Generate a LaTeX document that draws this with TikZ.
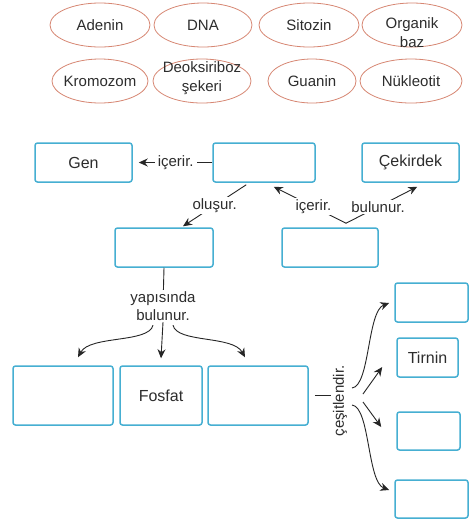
\documentclass[tikz,border=0pt]{standalone}
\usepackage{fontspec}
\setmainfont{Liberation Sans}
\usetikzlibrary{arrows.meta,calc,shapes.geometric}
\definecolor{boxc}{RGB}{70,175,210}
\definecolor{ellc}{RGB}{215,135,115}
\definecolor{txt}{RGB}{45,45,45}
\newcommand{\ztext}[2][-5.5pt]{\makebox[0pt]{\smash{\raisebox{#1}{#2}}}}
\newcommand{\twoln}[2]{\begin{tabular}{@{}c@{}}#1\\[1pt]#2\end{tabular}}
\begin{document}
\begin{tikzpicture}[x=1pt,y=-1pt,
  ell/.style={ellipse, draw=ellc, line width=0.8pt, inner sep=0pt, minimum height=44pt, text=txt, font=\fontsize{15}{18}\selectfont},
  box/.style={draw=boxc, line width=1.5pt, rounded corners=2.5pt, minimum height=39pt, inner sep=0pt, text=txt, font=\fontsize{16}{19}\selectfont},
  lbl/.style={text=txt, font=\fontsize{15}{18}\selectfont, fill=white, inner sep=1.5pt},
  con/.style={draw=black!85, line width=0.9pt},
  arr/.style={con, -{Stealth[length=9pt,width=8pt]}}
]
\useasboundingbox[fill=white] (0,0) rectangle (470,520);

% word bank
\node[ell, minimum width=100pt] (ade) at (100,25) {\ztext{Adenin}};
\node[ell, minimum width=98pt]  (dna) at (203,25) {\ztext{DNA}};
\node[ell, minimum width=100pt] (sit) at (309,25) {\ztext{Sitozin}};
\node[ell, minimum width=100pt] (org) at (412,25) {\ztext[-13pt]{\twoln{Organik}{baz}}};
\node[ell, minimum width=96pt]  (kro) at (100,81) {\ztext{Kromozom}};
\node[ell, minimum width=98pt]  (deo) at (202,81) {\ztext[-1pt]{\twoln{Deoksiriboz}{şekeri}}};
\node[ell, minimum width=88pt]  (gua) at (312,81) {\ztext{Guanin}};
\node[ell, minimum width=102pt] (nuk) at (411,81) {\ztext{Nükleotit}};

% boxes
\node[box, minimum width=97pt]  (genb) at (83.5,162.5) {Gen};
\node[box, minimum width=102pt] (dnab) at (264,162.5) {};
\node[box, minimum width=97pt]  (cekb) at (410.5,162.5) {Çekirdek};
\node[box, minimum width=98pt]  (nukb) at (164,247.5) {};
\node[box, minimum width=96pt]  (krob) at (330,247.5) {};
\node[box, minimum width=100pt, minimum height=59pt] (sekb) at (63,395.5) {};
\node[box, minimum width=82pt, minimum height=59pt]  (fosb) at (161,395.5) {Fosfat};
\node[box, minimum width=100pt, minimum height=59pt] (bazb) at (258,395.5) {};
\node[box, minimum width=73pt] (r1) at (431.5,302.5) {};
\node[box, minimum width=61pt] (tirb) at (427.5,357.5) {Tirnin};
\node[box, minimum width=63pt, minimum height=38pt] (r3) at (428.5,431) {};
\node[box, minimum width=73pt, minimum height=38pt] (r4) at (431.5,499) {};

% top connectors
\draw[arr, shorten >=6pt] (dnab.west) -- node[lbl, pos=0.46, inner xsep=3pt]{içerir.} (genb.east);
\draw[arr] ($(dnab.south west)+(34,2)$) -- node[lbl]{oluşur.} ($(nukb.north)+(19,-1)$);
\coordinate (hubk) at ($(krob.north)+(16,-4)$);
\draw[arr] (hubk) -- node[lbl, pos=0.45]{içerir.} ($(dnab.south east)+(-42,4)$);
\draw[arr] (hubk) -- node[lbl, pos=0.45]{bulunur.} ($(cekb.south west)+(56,4)$);

% yapısında bulunur
\node[lbl, align=center] (yb) at (163,306) {yapısında\\bulunur.};
\draw[con] (nukb.south) -- (yb);
\draw[arr] (yb.south) -- ($(fosb.north)+(0,-7)$);
\draw[arr] ($(yb.south)+(-10,3)$) .. controls +(-4,18) and +(12,-22) .. ($(sekb.north)+(15,-8)$);
\draw[arr] ($(yb.south)+(10,3)$) .. controls +(4,18) and +(-12,-22) .. ($(bazb.north)+(-13,-8)$);

% çeşitlendir
\node[lbl, rotate=90] (ces) at (340,401) {çeşitlendir.};
\draw[con] ([xshift=6pt]bazb.east) -- (bazb.east -| ces.north);
\draw[arr] ($(ces.center)+(12,-13)$) .. controls +(18,-2) and +(-22,8) .. ($(r1.west)+(-5,0.5)$);
\draw[arr] ($(ces.center)+(23,-7)$) -- ($(tirb.west)+(-14,9.5)$);
\draw[arr] ($(ces.center)+(23,1)$) -- ($(r3.west)+(-15,-4)$);
\draw[arr] ($(ces.center)+(12,4)$) .. controls +(18,2) and +(-22,-8) .. ($(r4.west)+(-5,-9)$);
\end{tikzpicture}
\end{document}
